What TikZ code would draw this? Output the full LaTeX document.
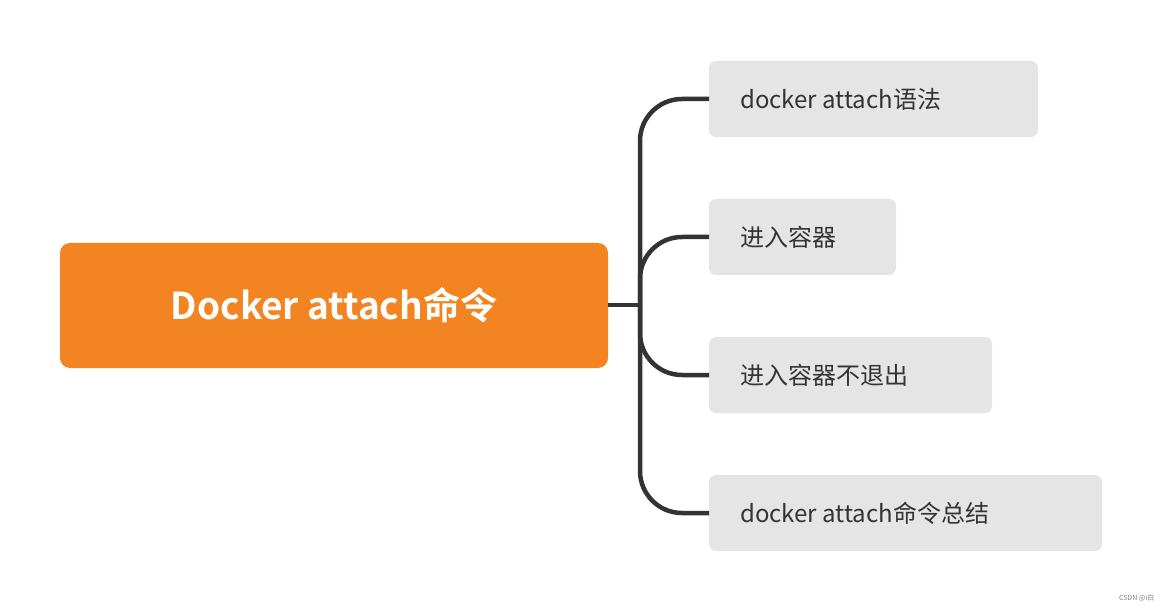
\documentclass[tikz,border=0pt]{standalone}
\usepackage{fontspec}
\setmainfont{Noto Sans CJK SC}
\newfontfamily\cjkbold{Noto Sans CJK SC Bold}
\definecolor{rootc}{HTML}{F28522}
\definecolor{boxc}{HTML}{E5E5E5}
\definecolor{linec}{HTML}{333333}
\begin{document}
\begin{tikzpicture}[x=1pt,y=-1pt,
  child/.style={fill=boxc,rounded corners=7pt},
  ctext/.style={anchor=west,text=linec,font=\fontsize{24}{28}\selectfont,inner sep=0pt},
  conn/.style={draw=linec,line width=4.5pt,rounded corners=42pt}]
\useasboundingbox (0,0) rectangle (1164,612);
\fill[rootc,rounded corners=10pt] (60,243) rectangle (608,368);
\node[text=white,font=\cjkbold\fontsize{37}{44}\selectfont] (root) at (334,305) {Docker attach命令};
\coordinate (rr) at (608,305);
\coordinate (j) at (640,305);
\foreach \i/\y/\xr/\t in {1/99/1038/docker attach语法,2/237/896/进入容器,3/375/992/进入容器不退出,4/513/1102/docker attach命令总结}{
  \fill[child] (709,\y-38) rectangle (\xr,\y+38);
  \coordinate (c\i) at (709,\y);
  \node[ctext] (t\i) at (740,\y) {\t};
}
\draw[conn] (rr) -- (j);
\foreach \i in {1,2,3,4}{\draw[conn] (j) |- (c\i);}
\node[text=gray,font=\fontsize{7}{8}\selectfont,anchor=east] (wm) at (1158,598) {CSDN @i白};
\end{tikzpicture}
\end{document}
